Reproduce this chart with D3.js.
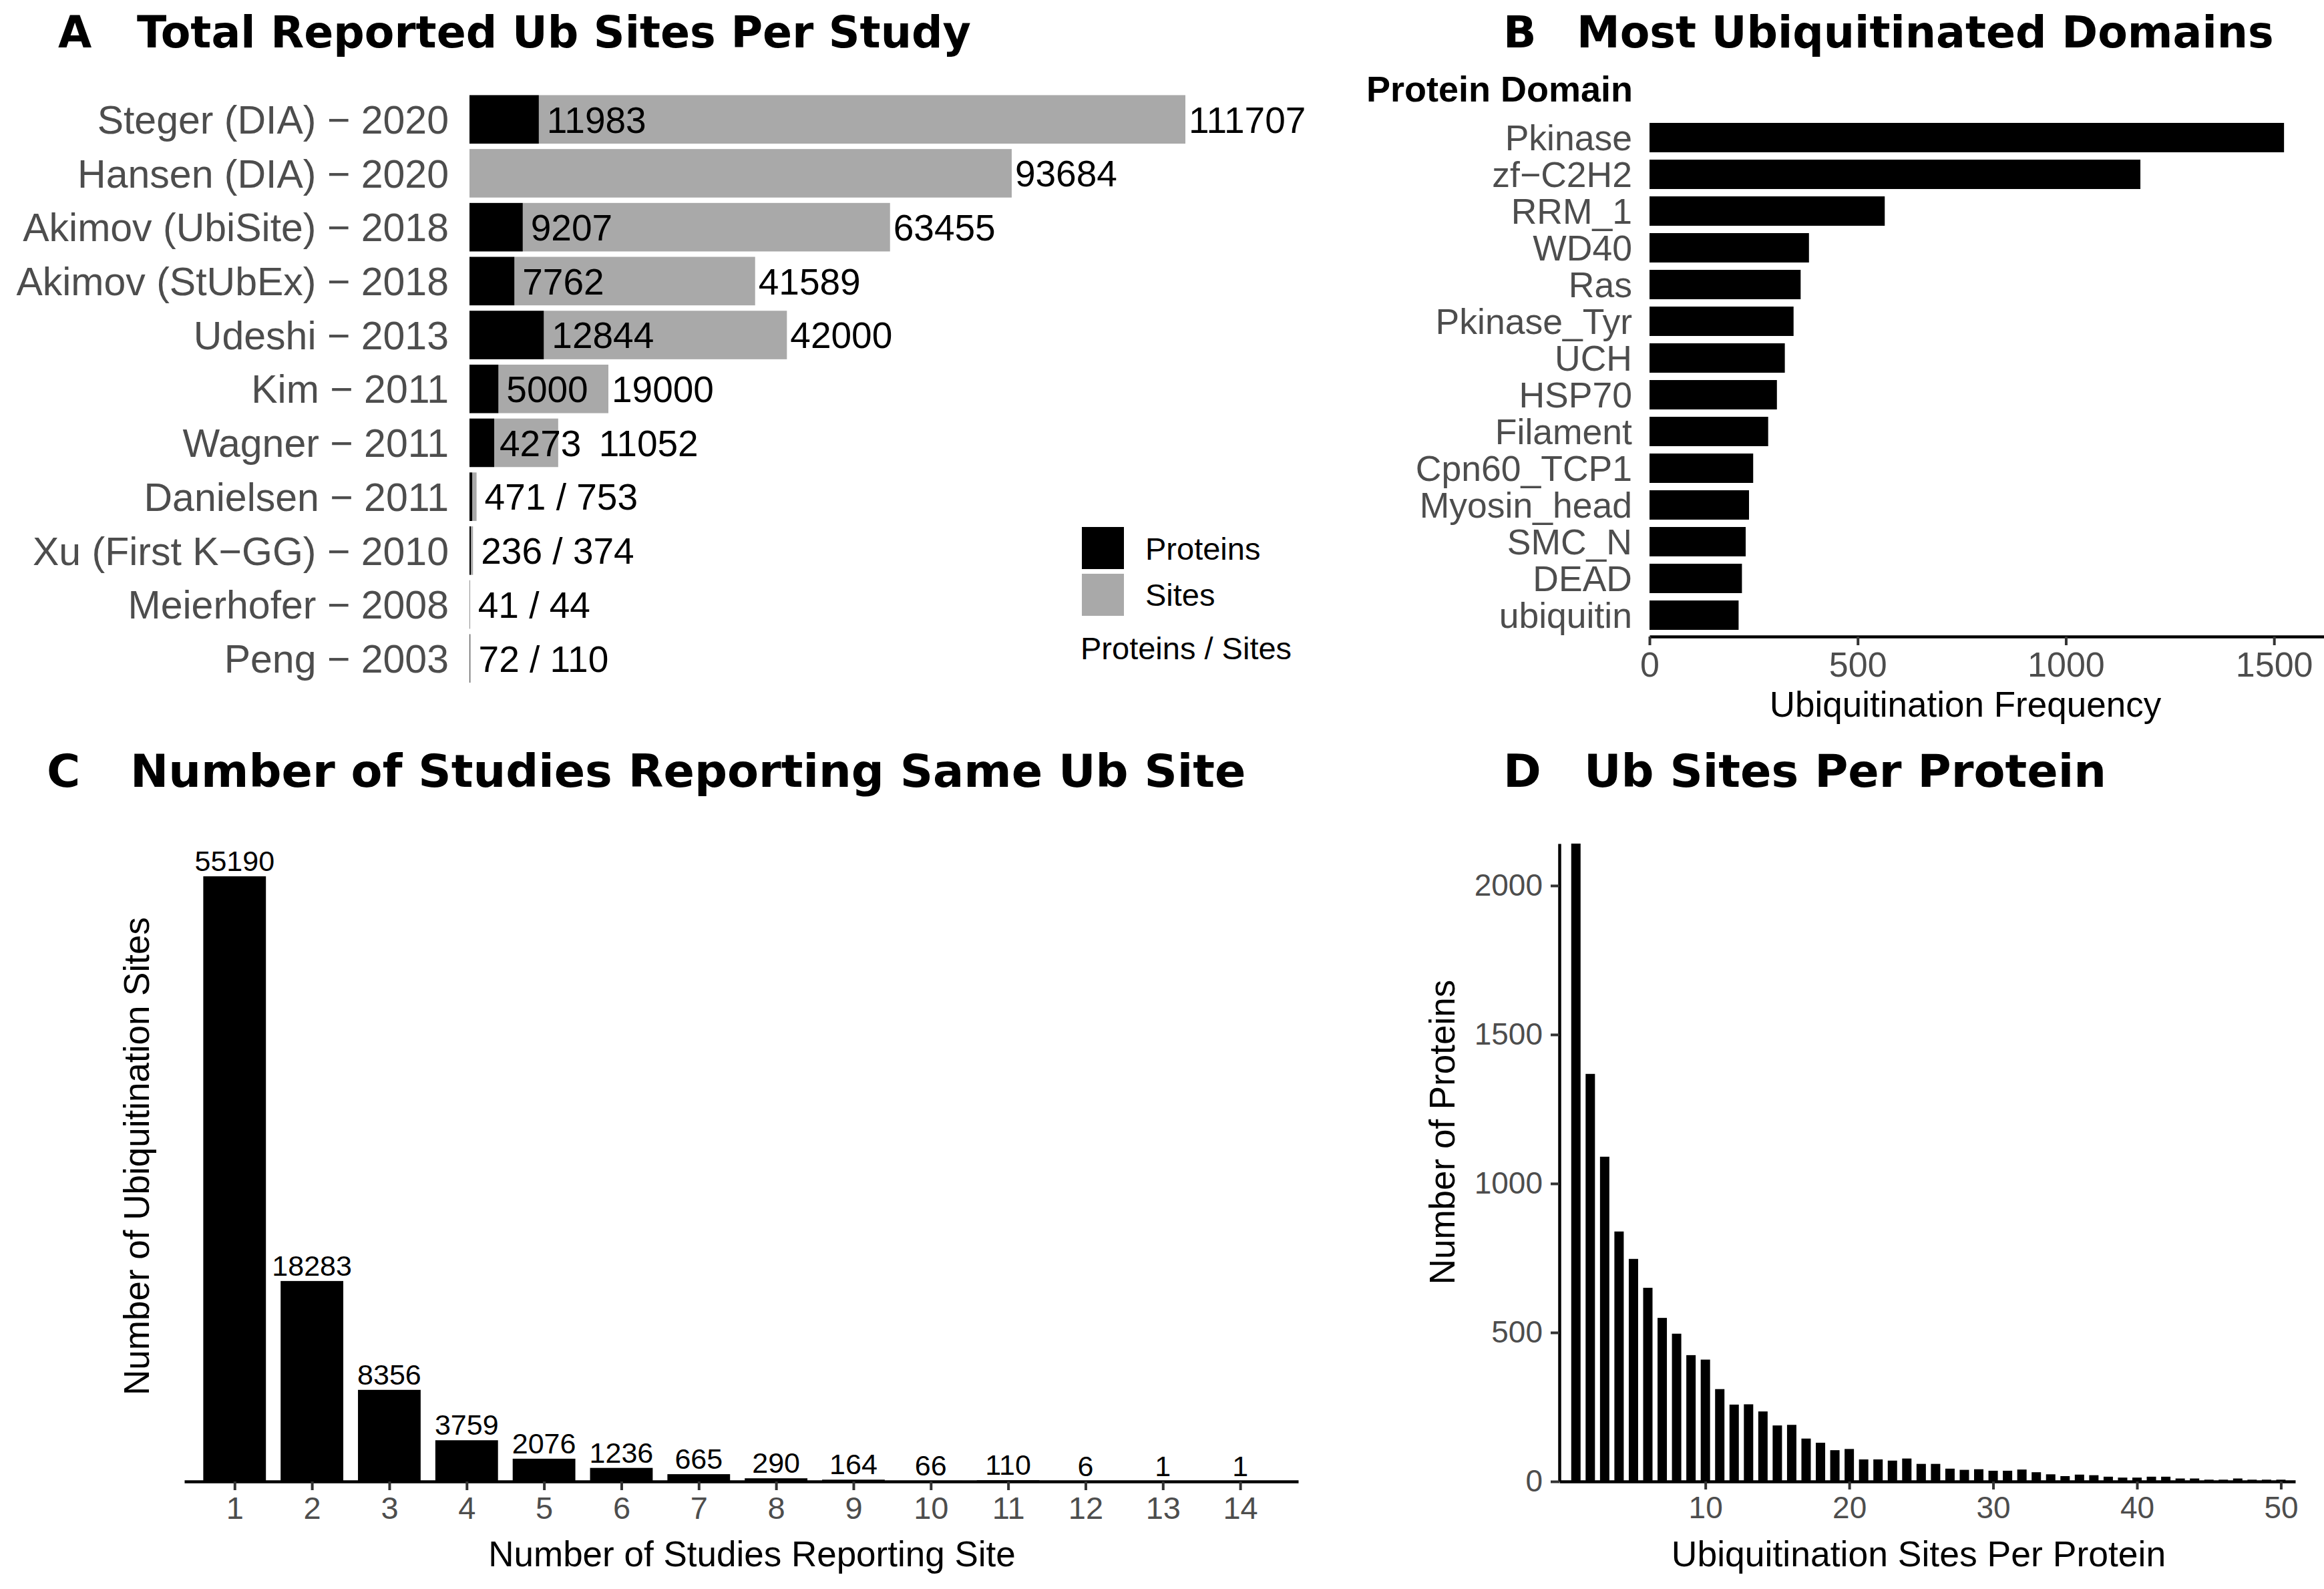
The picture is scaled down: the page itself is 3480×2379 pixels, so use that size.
<!DOCTYPE html>
<html><head><meta charset="utf-8">
<script src="https://cdn.jsdelivr.net/npm/d3@7"></script>
<style>body{margin:0;background:#fff} svg{display:block}</style>
</head><body>
<svg id="chart" width="3480" height="2379"></svg>
<script>
// ---------- DATA ----------
const studies = ["Steger (DIA) − 2020","Hansen (DIA) − 2020","Akimov (UbiSite) − 2018","Akimov (StUbEx) − 2018","Udeshi − 2013","Kim − 2011","Wagner − 2011","Danielsen − 2011","Xu (First K−GG) − 2010","Meierhofer − 2008","Peng − 2003"];
const studyProteins = [11983, 0, 9207, 7762, 12844, 5000, 4273, 471, 236, 41, 72];
const studySites = [111707, 93684, 63455, 41589, 42000, 19000, 11052, 753, 374, 44, 110];
const legendLabels = ["Proteins", "Sites"];
const legendTitle = "Proteins / Sites";

const domains = ["Pkinase","zf−C2H2","RRM_1","WD40","Ras","Pkinase_Tyr","UCH","HSP70","Filament","Cpn60_TCP1","Myosin_head","SMC_N","DEAD","ubiquitin"];
const domainFreq = [1524,1179,565,383,363,346,325,306,285,249,239,231,222,214];
const domainTicks = [0,500,1000,1500];

const studyCounts = [1,2,3,4,5,6,7,8,9,10,11,12,13,14];
const siteCounts = [55190,18283,8356,3759,2076,1236,665,290,164,66,110,6,1,1];

const sitesPerProtein = d3.range(1,51);
const proteinCounts = [2600,1368,1090,839,747,650,549,496,424,409,310,258,259,235,188,190,144,130,105,109,74,74,70,77,59,59,43,39,41,36,36,40,31,24,18,23,21,16,13,13,16,16,10,10,6,6,10,6,6,6];
const dYTicks = [0,500,1000,1500,2000];
const dXTicks = [10,20,30,40,50];

// ---------- SETUP ----------
const svg = d3.select("#chart");
svg.append("rect").attr("width",3480).attr("height",2379).attr("fill","#fff");
const SANS = "'Liberation Sans', Arial, sans-serif";
const TITLE = "'DejaVu Sans', sans-serif";
const AXTXT = "#4D4D4D";
const fmt = d3.format("d");

function title(x1, x2, y, letter, text, size){
  svg.append("text").attr("x",x1).attr("y",y).attr("font-family",TITLE).attr("font-weight","bold").attr("font-size",size).text(letter);
  svg.append("text").attr("x",x2).attr("y",y).attr("font-family",TITLE).attr("font-weight","bold").attr("font-size",size).text(text);
}

// ---------- PANEL A ----------
title(87, 205, 71, "A", "Total Reported Ub Sites Per Study", 65);
const totals = studies.map((s,i)=>studyProteins[i]+studySites[i]);
const xA = d3.scaleLinear().domain([0, d3.max(totals)]).range([703, 1775]);
const yA = d3.scaleBand().domain(studies).range([138.4, 138.4+80.7*11]).paddingInner(0.1).paddingOuter(0.05);
// label nudges (layout only) for the crowded Wagner row
const nudge = {"Wagner − 2011": [-4, 56]};
const gA = svg.append("g");
gA.selectAll("rect.sites").data(studies).join("rect")
  .attr("x",(d,i)=>xA(studyProteins[i])).attr("y",d=>yA(d))
  .attr("width",(d,i)=>xA(totals[i])-xA(studyProteins[i])).attr("height",yA.bandwidth())
  .attr("fill","#A9A9A9");
gA.selectAll("rect.prot").data(studies).join("rect")
  .attr("x",xA(0)).attr("y",d=>yA(d))
  .attr("width",(d,i)=>xA(studyProteins[i])-xA(0)).attr("height",yA.bandwidth())
  .attr("fill","#000");
gA.selectAll("text.ylab").data(studies).join("text")
  .attr("x",672).attr("y",d=>yA(d)+yA.bandwidth()/2).attr("dy","0.36em")
  .attr("text-anchor","end").attr("font-family",SANS).attr("font-size",59).attr("fill",AXTXT).text(d=>d);
studies.forEach((s,i)=>{
  const cy = yA(s)+yA.bandwidth()/2;
  const nd = nudge[s] || [0,0];
  if (totals[i] < 5000){
    gA.append("text").attr("x",xA(totals[i])+12).attr("y",cy).attr("dy","0.36em")
      .attr("font-family",SANS).attr("font-size",55).text(studyProteins[i]+" / "+studySites[i]);
  } else {
    if (studyProteins[i] > 0)
      gA.append("text").attr("x",xA(studyProteins[i])+12+nd[0]).attr("y",cy).attr("dy","0.36em")
        .attr("font-family",SANS).attr("font-size",55).text(studyProteins[i]);
    gA.append("text").attr("x",xA(totals[i])+5+nd[1]).attr("y",cy).attr("dy","0.36em")
      .attr("font-family",SANS).attr("font-size",55).text(studySites[i]);
  }
});
// legend
const legCol = ["#000","#A9A9A9"];
legendLabels.forEach((l,i)=>{
  gA.append("rect").attr("x",1620).attr("y",789+i*70).attr("width",63).attr("height",63).attr("fill",legCol[i]);
  gA.append("text").attr("x",1715).attr("y",821+i*69).attr("dy","0.36em").attr("font-family",SANS).attr("font-size",47).text(l);
});
gA.append("text").attr("x",1618).attr("y",970).attr("dy","0.36em").attr("font-family",SANS).attr("font-size",47).text(legendTitle);

// ---------- PANEL B ----------
title(2251, 2361, 71, "B", "Most Ubiquitinated Domains", 65);
const xB = d3.scaleLinear().domain([0,1620]).range([2470,3480]);
const yB = d3.scaleBand().domain(domains).range([178.5,948.5]).paddingInner(0.2).paddingOuter(0.1);
const gB = svg.append("g");
gB.selectAll("rect").data(domains).join("rect")
  .attr("x",xB(0)).attr("y",d=>yB(d)).attr("width",(d,i)=>xB(domainFreq[i])-xB(0)).attr("height",yB.bandwidth()).attr("fill","#000");
gB.selectAll("text.ylab").data(domains).join("text")
  .attr("x",2444).attr("y",d=>yB(d)+yB.bandwidth()/2).attr("dy","0.36em")
  .attr("text-anchor","end").attr("font-family",SANS).attr("font-size",53.5).attr("fill",AXTXT).text(d=>d);
gB.append("text").attr("x",2046).attr("y",152).attr("font-family",SANS).attr("font-weight","bold").attr("font-size",54).text("Protein Domain");
const axB = gB.append("g").attr("transform","translate(0,953)")
  .call(d3.axisBottom(xB).tickValues(domainTicks).tickFormat(fmt).tickSize(13).tickPadding(10).tickSizeOuter(0));
axB.select(".domain").attr("stroke","#000").attr("stroke-width",4.5);
axB.selectAll(".tick line").attr("stroke","#333").attr("stroke-width",4);
axB.selectAll(".tick text").attr("font-family",SANS).attr("font-size",52).attr("fill",AXTXT);
gB.append("text").attr("x",2943).attr("y",1073).attr("text-anchor","middle").attr("font-family",SANS).attr("font-size",53).text("Ubiquitination Frequency");

// ---------- PANEL C ----------
title(70, 195, 1178, "C", "Number of Studies Reporting Same Ub Site", 68.5);
const xC = d3.scaleLinear().domain([0.35,14.75]).range([276,1944]);
const yC = d3.scaleLinear().domain([0,55190]).range([2218,1312]);
const wC = 0.81;
const gC = svg.append("g");
gC.selectAll("rect").data(studyCounts).join("rect")
  .attr("x",d=>xC(d-wC/2)).attr("width",xC(wC)-xC(0))
  .attr("y",(d,i)=>yC(siteCounts[i])).attr("height",(d,i)=>yC(0)-yC(siteCounts[i])).attr("fill","#000");
gC.selectAll("text.val").data(studyCounts).join("text")
  .attr("x",d=>xC(d)).attr("y",(d,i)=>yC(siteCounts[i])-8).attr("text-anchor","middle")
  .attr("font-family",SANS).attr("font-size",43).text((d,i)=>siteCounts[i]);
const axC = gC.append("g").attr("transform","translate(0,2218)")
  .call(d3.axisBottom(xC).tickValues(studyCounts).tickFormat(fmt).tickSize(13).tickPadding(10).tickSizeOuter(0));
axC.select(".domain").attr("stroke","#000").attr("stroke-width",4.5);
axC.selectAll(".tick line").attr("stroke","#333").attr("stroke-width",4);
axC.selectAll(".tick text").attr("font-family",SANS).attr("font-size",47).attr("fill",AXTXT);
gC.append("text").attr("x",1126).attr("y",2345).attr("text-anchor","middle").attr("font-family",SANS).attr("font-size",53).text("Number of Studies Reporting Site");
gC.append("text").attr("transform","translate(204,1731) rotate(-90)").attr("dy","0.36em").attr("text-anchor","middle").attr("font-family",SANS).attr("font-size",53).text("Number of Ubiquitination Sites");

// ---------- PANEL D ----------
title(2251, 2372, 1178, "D", "Ub Sites Per Protein", 68.5);
const xD = d3.scaleLinear().domain([-0.15,51]).range([2335,3437]);
const yD = d3.scaleLinear().domain([0,2141]).range([2218,1263]);
const wD = 0.65;
const gD = svg.append("g");
svg.append("clipPath").attr("id","clipD").append("rect").attr("x",2335).attr("y",1263).attr("width",1110).attr("height",960);
gD.append("g").attr("clip-path","url(#clipD)").selectAll("rect").data(sitesPerProtein).join("rect")
  .attr("x",d=>xD(d-wD/2)).attr("width",xD(wD)-xD(0))
  .attr("y",(d,i)=>yD(proteinCounts[i])).attr("height",(d,i)=>yD(0)-yD(proteinCounts[i])).attr("fill","#000");
const axDx = gD.append("g").attr("transform","translate(0,2218)")
  .call(d3.axisBottom(xD).tickValues(dXTicks).tickFormat(fmt).tickSize(12).tickPadding(10).tickSizeOuter(0));
axDx.select(".domain").attr("stroke","#000").attr("stroke-width",4.5);
axDx.selectAll(".tick line").attr("stroke","#333").attr("stroke-width",4);
axDx.selectAll(".tick text").attr("font-family",SANS).attr("font-size",46).attr("fill",AXTXT);
const axDy = gD.append("g").attr("transform","translate(2335,0)")
  .call(d3.axisLeft(yD).tickValues(dYTicks).tickFormat(fmt).tickSize(13).tickPadding(12).tickSizeOuter(0));
axDy.select(".domain").attr("stroke","#000").attr("stroke-width",4.5);
axDy.selectAll(".tick line").attr("stroke","#333").attr("stroke-width",4);
axDy.selectAll(".tick text").attr("font-family",SANS).attr("font-size",46).attr("fill",AXTXT);
gD.append("text").attr("x",2873).attr("y",2345).attr("text-anchor","middle").attr("font-family",SANS).attr("font-size",53.5).text("Ubiquitination Sites Per Protein");
gD.append("text").attr("transform","translate(2159,1695) rotate(-90)").attr("dy","0.36em").attr("text-anchor","middle").attr("font-family",SANS).attr("font-size",53).text("Number of Proteins");
</script>
</body></html>
